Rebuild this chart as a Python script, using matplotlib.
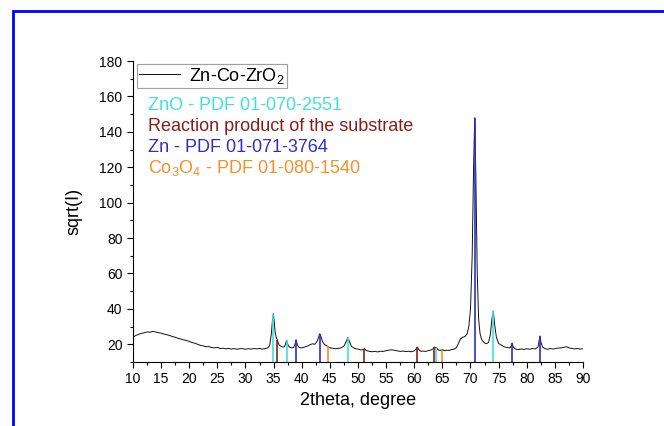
import matplotlib
matplotlib.use("Agg")
import matplotlib.pyplot as plt
from matplotlib.patches import Rectangle
from matplotlib.ticker import MultipleLocator

plt.rcParams['font.family'] = ['Liberation Sans', 'DejaVu Sans']
plt.rcParams['mathtext.fontset'] = 'custom'
plt.rcParams['mathtext.rm'] = 'Liberation Sans'

# XRD pattern Zn-Co-ZrO2 (2theta, sqrt(I))
two_theta = [
    10.0, 10.5, 11.0, 11.5, 12.0, 12.5, 13.0, 13.5, 14.0, 14.5,
    15.0, 15.5, 16.0, 16.5, 17.0, 17.5, 18.0, 18.5, 19.0, 19.5,
    20.0, 20.5, 21.0, 21.5, 22.0, 22.5, 23.0, 23.5, 24.0, 24.5,
    25.0, 25.5, 26.0, 26.5, 27.0, 27.5, 28.0, 28.5, 29.0, 29.5,
    30.0, 30.5, 31.0, 31.5, 32.0, 32.5, 33.0, 33.5, 34.0, 34.3,
    34.6, 34.8, 34.95, 35.1, 35.3, 35.5, 35.65, 35.8, 36.0, 36.5,
    36.9, 37.1, 37.3, 37.5, 37.8, 38.2, 38.6, 38.85, 39.0, 39.2,
    39.5, 40.0, 40.5, 41.0, 41.5, 41.9, 42.3, 42.7, 43.0, 43.2,
    43.4, 43.7, 44.0, 44.3, 44.6, 45.0, 45.5, 46.0, 46.5, 47.0,
    47.5, 47.9, 48.2, 48.5, 48.8, 49.2, 49.6, 50.0, 50.5, 50.9,
    51.15, 51.4, 51.8, 52.0, 52.5, 53.0, 53.5, 54.0, 54.5, 55.0,
    55.5, 56.0, 56.5, 57.0, 57.5, 58.0, 58.5, 59.0, 59.5, 60.0,
    60.3, 60.55, 60.8, 61.2, 61.6, 62.0, 62.5, 63.0, 63.4, 63.6,
    63.8, 63.95, 64.2, 64.6, 65.0, 65.4, 65.8, 66.2, 66.6, 67.0,
    67.4, 67.8, 68.2, 68.6, 69.0, 69.4, 69.7, 70.0, 70.3, 70.55,
    70.75, 70.95, 71.2, 71.45, 71.7, 72.0, 72.4, 72.8, 73.2, 73.5,
    73.8, 74.05, 74.3, 74.6, 75.0, 75.5, 76.0, 76.5, 77.0, 77.25,
    77.4, 77.6, 78.0, 78.5, 79.0, 79.5, 80.0, 80.5, 81.0, 81.5,
    82.0, 82.2, 82.35, 82.55, 82.8, 83.2, 83.7, 84.2, 84.7, 85.2,
    85.7, 86.2, 86.7, 87.1, 87.5, 88.0, 88.5, 89.0, 89.5, 90.0,
]
sqrt_i = [
    24.0, 25.0, 25.6, 26.2, 26.5, 27.0, 26.8, 27.3, 27.0, 26.6,
    26.3, 25.8, 25.4, 25.0, 24.4, 24.0, 23.4, 23.0, 22.5, 22.2,
    21.6, 21.0, 20.6, 20.0, 19.4, 19.1, 18.6, 18.7, 18.2, 18.0,
    18.3, 17.6, 17.8, 17.4, 17.7, 17.3, 17.6, 17.2, 17.5, 17.6,
    17.2, 17.5, 17.3, 17.6, 17.4, 17.7, 17.3, 17.6, 18.0, 19.5,
    26.0, 34.0, 37.3, 33.0, 26.0, 23.5, 22.6, 21.0, 19.6, 18.5,
    18.6, 20.0, 22.3, 20.0, 18.4, 18.0, 18.3, 20.5, 22.6, 19.8,
    18.3, 18.0, 18.4, 19.0, 19.8, 20.3, 20.0, 21.5, 24.0, 26.0,
    24.5, 21.5, 20.0, 19.4, 18.9, 18.0, 17.8, 17.5, 17.7, 18.0,
    19.0, 21.5, 23.8, 21.5, 19.0, 18.0, 17.5, 17.3, 16.8, 17.0,
    17.6, 16.6, 16.2, 16.0, 15.8, 16.0, 15.7, 16.1, 16.0, 16.4,
    16.7, 16.9, 16.6, 16.3, 16.0, 16.2, 15.9, 16.1, 15.8, 16.3,
    17.2, 18.5, 17.0, 16.0, 16.2, 16.0, 16.4, 16.8, 17.6, 18.5,
    17.8, 18.0, 17.0, 16.5, 17.0, 16.4, 16.7, 16.5, 17.0, 17.2,
    17.8, 20.0, 23.0, 24.0, 24.3, 26.0, 30.0, 40.0, 70.0, 120.0,
    148.0, 115.0, 60.0, 34.0, 26.0, 22.5, 21.0, 20.3, 21.0, 25.0,
    34.0, 38.8, 31.0, 24.0, 20.5, 19.5, 18.6, 18.2, 18.0, 19.0,
    20.7, 18.5, 17.3, 17.0, 17.4, 17.1, 17.5, 17.2, 17.6, 17.4,
    18.5, 22.0, 24.7, 21.0, 18.5, 17.6, 17.2, 17.6, 17.3, 17.7,
    17.9, 18.0, 18.4, 18.6, 18.0, 17.7, 17.4, 17.6, 17.3, 17.5,
]

# reference lines (position, height)
zno_pos = [34.95, 37.3, 48.2, 63.95, 74.05]
zno_h = [37.3, 22.3, 23.8, 18.0, 38.8]
sub_pos = [35.65, 51.15, 60.55, 63.6]
sub_h = [22.6, 17.6, 18.5, 18.5]
zn_pos = [39.0, 43.2, 70.75, 77.4, 82.35]
zn_h = [22.6, 26.0, 148.0, 20.7, 24.7]
co_pos = [44.6, 65.0]
co_h = [18.9, 17.0]

c_zno = '#3fe0e0'
c_sub = '#8b1c1c'
c_zn = '#2e2ec8'
c_co = '#f2902c'

fig = plt.figure(figsize=(6.64, 4.26), dpi=100)
ax = fig.add_axes([0.2003, 0.1502, 0.6777, 0.7066])

line, = ax.plot(two_theta, sqrt_i, color='#111111', lw=0.7)
ax.vlines(zno_pos, 10, zno_h, colors=c_zno, lw=1.2)
ax.vlines(sub_pos, 10, sub_h, colors=c_sub, lw=1.2)
ax.vlines(zn_pos, 10, zn_h, colors=c_zn, lw=1.2)
ax.vlines(co_pos, 10, co_h, colors=c_co, lw=1.2)

ax.set_xlim(10, 90)
ax.set_ylim(10, 180)
ax.spines['top'].set_visible(False)
ax.spines['right'].set_visible(False)
ax.xaxis.set_major_locator(MultipleLocator(5))
ax.xaxis.set_minor_locator(MultipleLocator(2.5))
ax.yaxis.set_minor_locator(MultipleLocator(10))
ax.set_yticks([20, 40, 60, 80, 100, 120, 140, 160, 180])
ax.tick_params(which='major', direction='out', length=4, width=0.8, labelsize=10)
ax.tick_params(which='minor', direction='out', length=2.5, width=0.8)

ax.set_xlabel('2theta, degree', fontsize=13, labelpad=4)
ax.set_ylabel('sqrt(I)', fontsize=13, labelpad=12)

leg = ax.legend([line], ['Zn-Co-ZrO$_\\mathregular{2}$'], loc='upper left',
                bbox_to_anchor=(0.009, 0.99), fontsize=13, fancybox=False,
                edgecolor='#888888', handlelength=2.3, borderpad=0.1,
                borderaxespad=0, handletextpad=0.5)
leg.get_frame().set_linewidth(0.8)

ax.text(0.033, 0.852, 'ZnO - PDF 01-070-2551', transform=ax.transAxes,
        color=c_zno, fontsize=13, va='center')
ax.text(0.033, 0.781, 'Reaction product of the substrate', transform=ax.transAxes,
        color=c_sub, fontsize=13, va='center')
ax.text(0.033, 0.714, 'Zn - PDF 01-071-3764', transform=ax.transAxes,
        color=c_zn, fontsize=13, va='center')
ax.text(0.033, 0.645, 'Co$_\\mathregular{3}$O$_\\mathregular{4}$ - PDF 01-080-1540',
        transform=ax.transAxes, color=c_co, fontsize=13, va='center')

# blue frame around the picture, cut off at right and bottom
fig.add_artist(Rectangle((13 / 664, -0.2), 1.2, 0.974 + 0.2, transform=fig.transFigure,
                         fill=False, edgecolor='#0000ff', lw=2, clip_on=False))

fig.savefig('out.png', dpi=100)
